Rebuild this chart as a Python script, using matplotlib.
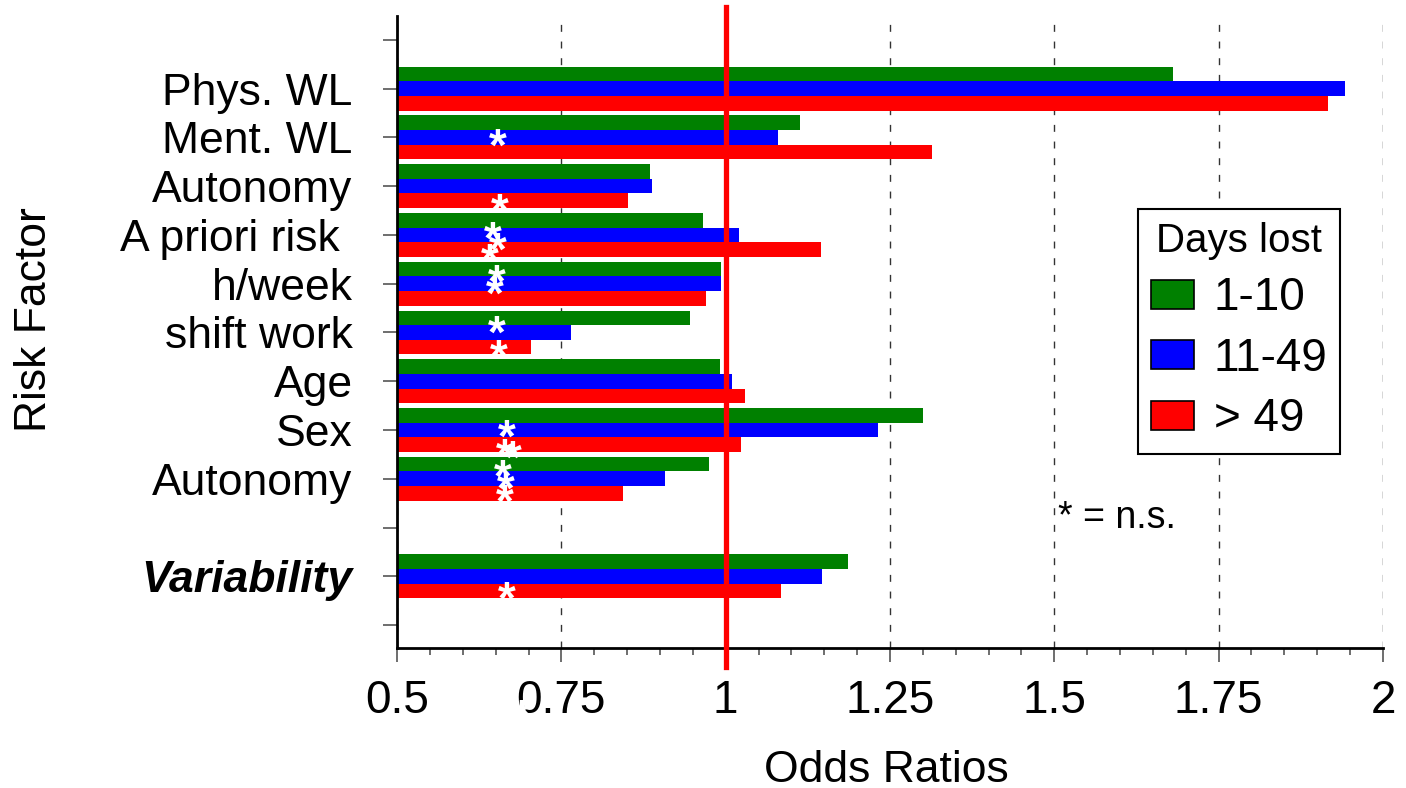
import numpy as np
import matplotlib
matplotlib.use("Agg")
import matplotlib.pyplot as plt
import matplotlib.transforms as mtransforms
from matplotlib.patches import Patch

plt.rcParams['font.family'] = ['Liberation Sans', 'DejaVu Sans']

# data (tick index from top: 0 and 10, 12 are empty slots)
categories = ['Phys. WL', 'Ment. WL', 'Autonomy', 'A priori risk ', 'h/week',
              'shift work', 'Age', 'Sex', 'Autonomy', 'Variability']
cat_pos = [1, 2, 3, 4, 5, 6, 7, 8, 9, 11]
days_1_10 = [1.681, 1.113, 0.885, 0.966, 0.993, 0.946, 0.991, 1.300, 0.975, 1.186]
days_11_49 = [1.942, 1.080, 0.888, 1.020, 0.993, 0.765, 1.010, 1.232, 0.908, 1.147]
days_gt_49 = [1.916, 1.314, 0.851, 1.145, 0.970, 0.704, 1.029, 1.023, 0.844, 1.084]
series_labels = ['1-10', '11-49', '> 49']
series_colors = ['#008000', '#0000ff', '#ff0000']

# "n.s." asterisks (x, y in tick units)
star_x = [0.654, 0.657, 0.646, 0.654, 0.641, 0.652, 0.649, 0.651, 0.655,
          0.667, 0.664, 0.676, 0.661, 0.666, 0.664, 0.667, 0.690]
star_y = [1.99, 3.32, 3.90, 4.12, 4.35, 4.78, 5.03, 5.83, 6.32,
          7.96, 8.35, 8.39, 8.78, 9.03, 9.29, 11.28, 13.70]

fig = plt.figure(figsize=(14.06, 7.88), dpi=100)
ax = fig.add_axes([0.2824, 0.1777, 0.7012, 0.8020])

h = 0.3
pos = np.array(cat_pos, dtype=float)
for k, (vals, col, lab) in enumerate(zip([days_1_10, days_11_49, days_gt_49],
                                         series_colors, series_labels)):
    ax.barh(pos + (k - 1) * h, np.array(vals) - 0.5, left=0.5, height=h,
            color=col, label=lab, zorder=2)

ax.set_xlim(0.5, 2.0)
ax.set_ylim(12.47, -0.49)

ax.set_xticks(np.arange(0.5, 2.01, 0.25))
ax.set_xticklabels(['0.5', '0.75', '1', '1.25', '1.5', '1.75', '2'])
ax.set_xticks(np.arange(0.5, 2.01, 0.05), minor=True)
ax.set_yticks(range(13))
ylabels = [''] * 13
for p, c in zip(cat_pos, categories):
    ylabels[p] = c
ax.set_yticklabels(ylabels)
for t in ax.get_yticklabels():
    if t.get_text() == 'Variability':
        t.set_fontweight('bold')
        t.set_fontstyle('italic')

ax.tick_params(axis='x', which='major', length=10, width=1.2, color='#555555',
               labelsize=33, pad=12)
ax.tick_params(axis='x', which='minor', length=5, width=1.2, color='#555555')
ax.tick_params(axis='y', length=10, width=1.2, color='#555555',
               labelsize=32, pad=22)

ax.xaxis.grid(True, which='major', color='#333333', linewidth=1,
              linestyle=(0, (5, 7)))
ax.set_axisbelow(True)
for s in ['top', 'right']:
    ax.spines[s].set_visible(False)
for s in ['left', 'bottom']:
    ax.spines[s].set_linewidth(2)

# reference line at OR = 1
trans = mtransforms.blended_transform_factory(ax.transData, ax.transAxes)
ax.plot([1, 1], [-0.030, 1.014], color='#ff0000', lw=3.8, transform=trans,
        clip_on=False, zorder=4)

for x, y in zip(star_x, star_y):
    ax.annotate('*', xy=(x, y), xytext=(0, -17), textcoords='offset points',
                ha='center', va='baseline', color='white', fontsize=33,
                fontweight='bold', zorder=5, annotation_clip=False)

ax.text(1.505, 10.0, '* = n.s.', fontsize=27, va='baseline', ha='left')

handles = [Patch(facecolor=c, edgecolor='black', linewidth=1.2) for c in series_colors]
leg = ax.legend(handles, series_labels, title='Days lost', loc='upper left',
                bbox_to_anchor=(0.7515, 0.6946), borderaxespad=0,
                fontsize=33, title_fontsize=29, fancybox=False,
                edgecolor='black', framealpha=1, handlelength=0.95,
                handleheight=0.6, handletextpad=0.42, labelspacing=0.36,
                borderpad=0.28)
leg.get_frame().set_linewidth(1.5)

fig.text(35 / 1406, 1 - 320 / 788, 'Risk Factor', rotation=90,
         ha='center', va='center', fontsize=32)
fig.text(886 / 1406, 1 - 770 / 788, 'Odds Ratios', ha='center', va='center',
         fontsize=32)

fig.savefig('out.png', dpi=100)
